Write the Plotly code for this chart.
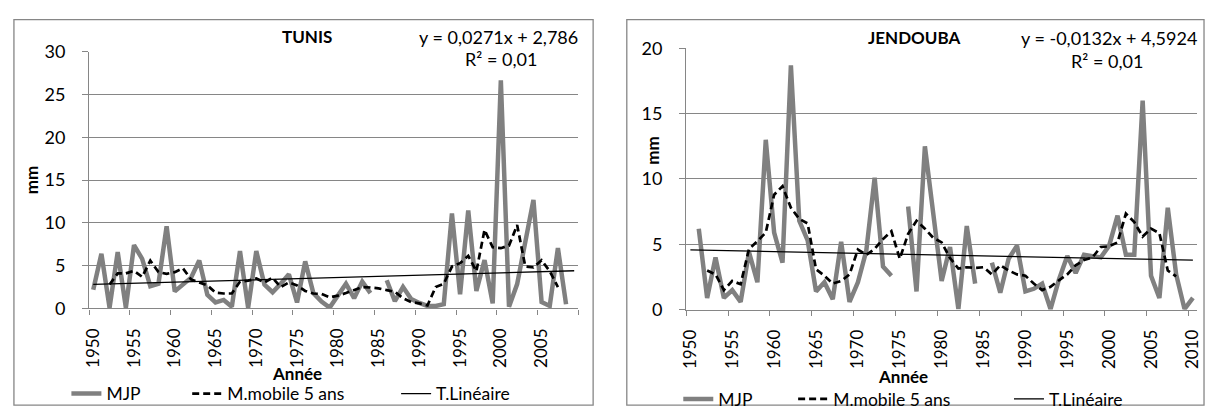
import plotly.graph_objects as go

# --- Data -------------------------------------------------------------
tunis_years = list(range(1950, 2010))
tunis_mjp = [2.2, 6.4, 0.1, 6.6, 0.1, 7.4, 5.8, 2.6, 2.9, 9.6,
             2.0, 2.8, 3.6, 5.6, 1.6, 0.7, 1.0, 0.2, 6.7, 0.1,
             6.7, 2.8, 1.9, 2.9, 4.0, 0.7, 5.5, 1.8, 0.8, 0.1,
             1.45, 2.9, 1.2, 3.15, 1.8, None, 3.3, 0.85, 2.5, 1.1,
             0.65, 0.3, 0.3, 0.5, 11.1, 1.65, 11.45, 2.05, 5.65, 0.6,
             26.65, 0.2, 2.85, 7.7, 12.7, 0.75, 0.3, 7.05, 0.5, None]
tunis_mm5 = [None, None, 2.8, 4.1, 4.1, 4.4, 3.7, 5.6, 4.25, 4.05,
             4.25, 4.7, 3.4, 3.05, 2.7, 1.85, 1.75, 1.75, 3.15, 3.25,
             3.5, 3.05, 3.6, 2.5, 3.05, 2.7, 2.05, 1.75, 1.7, 1.3,
             1.5, 1.8, 2.15, 2.5, 2.45, 2.35, 2.15, 1.95, 1.2, 0.75,
             0.6, 0.35, 2.5, 2.9, 4.9, 5.3, 6.15, 4.35, 9.2, 7.15,
             7.05, 7.35, 9.75, 4.9, 4.8, 5.65, 4.35, 2.5, None, None]
tunis_slope, tunis_intercept = 0.0271, 2.786

jendouba_years = list(range(1950, 2011))
jendouba_mjp = [None, 6.2, 0.9, 4.0, 0.9, 1.5, 0.6, 4.4, 2.1, 13.0,
                5.9, 3.6, 18.7, 6.8, 5.3, 1.4, 2.1, 0.8, 5.2, 0.6,
                2.1, 4.5, 10.1, 3.3, 2.6, None, 7.9, 1.4, 12.5, 7.5,
                2.2, 4.8, 0.05, 6.4, 2.0, None, 3.6, 1.3, 3.9, 4.9,
                1.4, 1.6, 2.0, 0.05, 2.3, 4.1, 2.8, 4.2, 4.1, 4.0,
                4.9, 7.2, 4.2, 4.2, 16.0, 2.6, 0.9, 7.8, 2.7, 0.05,
                0.9]
jendouba_mm5 = [None, None, 3.0, 2.7, 1.5, 2.2, 1.95, 4.65, 5.25, 5.9,
                8.8, 9.45, 7.8, 6.95, 6.6, 3.1, 2.6, 2.0, 2.2, 2.7,
                4.6, 4.2, 4.65, 5.4, 6.0, 3.9, 5.8, 6.8, 6.2, 5.5,
                5.15, 3.95, 3.15, 3.25, 3.2, 3.25, 2.7, 3.4, 3.0, 2.7,
                2.6, 2.0, 1.5, 1.75, 2.25, 2.7, 3.4, 3.8, 4.0, 4.8,
                4.85, 5.15, 7.35, 6.7, 5.6, 6.2, 5.85, 3.0, 2.55, None,
                None]
jendouba_slope, jendouba_intercept = -0.0132, 4.5924

tunis_ticks = list(range(1950, 2006, 5))
jendouba_ticks = list(range(1950, 2011, 5))

# --- Layout helpers ---------------------------------------------------
W, H = 1211, 417
FONT = "Lato, 'Open Sans', sans-serif"
GRID = "#868686"
MJP_COLOR = "#808080"


def px(x):
    return x / W


def py(y):
    return 1 - y / H


def trend(years, slope, intercept):
    # Excel-style linear trend: x is the 1-based category index
    return [slope * (i + 1) + intercept for i in range(len(years))]


fig = go.Figure()

series = [
    ("x", "y", tunis_years, tunis_mjp, tunis_mm5,
     trend(tunis_years, tunis_slope, tunis_intercept), ["legend", "legend2", "legend3"]),
    ("x2", "y2", jendouba_years, jendouba_mjp, jendouba_mm5,
     trend(jendouba_years, jendouba_slope, jendouba_intercept), ["legend4", "legend5", "legend6"]),
]

for xa, ya, yrs, mjp, mm5, tr, lg in series:
    fig.add_trace(go.Scatter(x=yrs, y=mjp, xaxis=xa, yaxis=ya, name="MJP", mode="lines",
                             line=dict(color=MJP_COLOR, width=4.5), connectgaps=False,
                             legend=lg[0], showlegend=True))
    fig.add_trace(go.Scatter(x=yrs, y=mm5, xaxis=xa, yaxis=ya, name="M.mobile 5 ans", mode="lines",
                             line=dict(color="black", width=2.7, dash="7px,4px"),
                             connectgaps=True, legend=lg[1], showlegend=True))
    fig.add_trace(go.Scatter(x=yrs, y=tr, xaxis=xa, yaxis=ya, name="T.Linéaire", mode="lines",
                             line=dict(color="black", width=1.3), legend=lg[2], showlegend=True))


def xaxis_cfg(left, right, first, last, ticks):
    return dict(
        domain=[px(left), px(right)], range=[first - 0.5, last + 0.5],
        tickvals=ticks, ticktext=[str(t) for t in ticks], tickangle=-90,
        ticks="", ticklabelstandoff=12,
        tickfont=dict(family=FONT, size=17, color="black"),
        showgrid=False, zeroline=False, showline=True, linecolor=GRID, linewidth=1.3,
        minor=dict(tickvals=[v - 0.5 for v in range(first, last + 2, 5)],
                   ticks="outside", ticklen=5, tickcolor=GRID, tickwidth=1.3, showgrid=False),
        fixedrange=True,
    )


def yaxis_cfg(top, bottom, ymax):
    return dict(
        domain=[py(bottom), py(top)], range=[0, ymax], dtick=5,
        ticks="outside", ticklen=6, tickcolor=GRID, tickwidth=1.3,
        ticklabelstandoff=13,
        tickfont=dict(family=FONT, size=18, color="black"),
        showgrid=True, gridcolor=GRID, gridwidth=1.2, zeroline=False,
        showline=True, linecolor=GRID, linewidth=1.3, fixedrange=True,
    )


fig.update_layout(
    width=W, height=H, margin=dict(l=0, r=0, t=0, b=0),
    paper_bgcolor="white", plot_bgcolor="white", showlegend=True,
    xaxis=xaxis_cfg(83, 577, 1950, 2009, tunis_ticks),
    yaxis=yaxis_cfg(42, 313, 30),
    xaxis2=xaxis_cfg(686, 1202, 1950, 2010, jendouba_ticks),
    yaxis2=yaxis_cfg(38.3, 314.3, 20),
)
fig.update_layout(xaxis2_anchor="y2", yaxis2_anchor="x2")

# One legend per entry so each sits where the chart places it
legend_pos = {
    "legend": (60, 403), "legend2": (182, 403), "legend3": (393, 403),
    "legend4": (678, 409), "legend5": (794, 409), "legend6": (1012, 409),
}
for name, (lx, ly) in legend_pos.items():
    fig.update_layout({name: dict(
        visible=True, x=px(lx), y=py(ly), xanchor="left", yanchor="middle", orientation="h",
        bgcolor="rgba(0,0,0,0)", borderwidth=0, itemclick=False, itemdoubleclick=False,
        font=dict(family=FONT, size=17.5, color="black"))})

# Chart frames
for x0, x1 in [(7, 592), (626, 1209)]:
    fig.add_shape(type="rect", xref="paper", yref="paper",
                  x0=px(x0), x1=px(x1), y0=py(415), y1=py(8),
                  line=dict(color=GRID, width=1.3), fillcolor="rgba(0,0,0,0)", layer="below")


def label(text, x, y, size=18, bold=False, angle=0):
    fig.add_annotation(text=f"<b>{text}</b>" if bold else text, x=px(x), y=py(y),
                       xref="paper", yref="paper", xanchor="center", yanchor="middle",
                       showarrow=False, textangle=angle,
                       font=dict(family=FONT, size=size, color="black"))


label("TUNIS", 303, 26, 17, bold=True)
label("y = 0,0271x + 2,786", 496, 26)
label("R² = 0,01", 499, 50)
label("mm", 25, 178, 17, bold=True, angle=-90)
label("Année", 293, 382, 17, bold=True)

label("JENDOUBA", 916, 27, 17, bold=True)
label("y = -0,0132x + 4,5924", 1113, 27)
label("R² = 0,01", 1111, 52)
label("mm", 652, 147, 17, bold=True, angle=-90)
label("Année", 905, 385, 17, bold=True)

fig.write_html("out.html")
